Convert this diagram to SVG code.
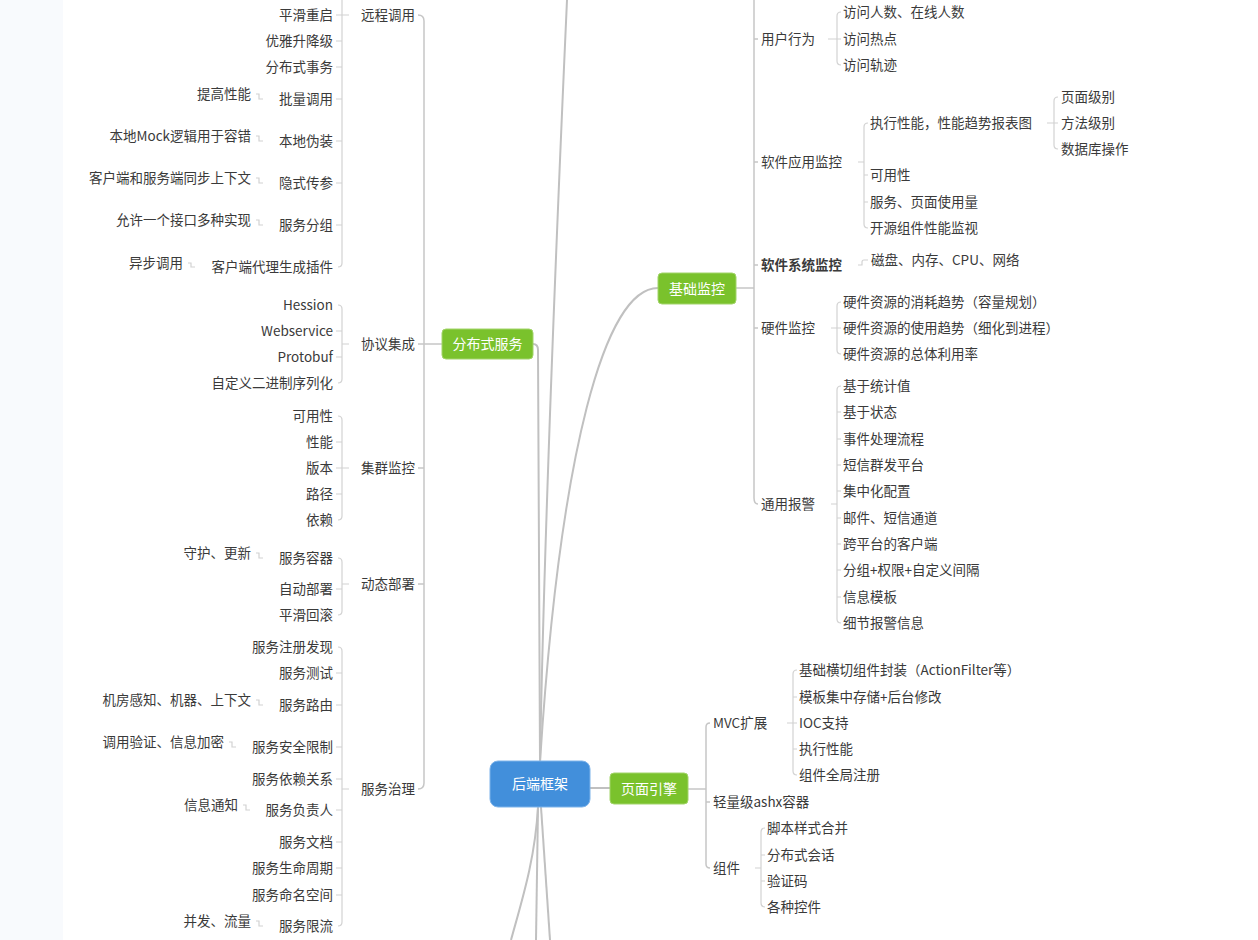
<svg xmlns="http://www.w3.org/2000/svg" width="1258" height="940" viewBox="0 0 1258 940">
<style>
text{font-family:"Noto Sans CJK SC","Liberation Sans",sans-serif;font-size:13.5px;fill:#3a3a3a}
.r{text-anchor:end}
.b{font-weight:bold}
.nt{fill:#fff;font-size:14px;text-anchor:middle}
.main{fill:none;stroke:#c0c0c0;stroke-width:2}
.l2{fill:none;stroke:#c6c6c6;stroke-width:1.5}
.l3{fill:none;stroke:#d2d2d2;stroke-width:1.2}
.g{fill:#7ac22c;stroke:#a2d46a;stroke-width:1}
.bl{fill:#428fdb;stroke:#7db3ea;stroke-width:1}
</style>
<rect x="0" y="0" width="1258" height="940" fill="#ffffff"/>
<rect x="0" y="0" width="63" height="940" fill="#f8fafd"/>

<g id="connectors">
<path class="main" d="M540,762 C543,600 549,400 567,0"/>
<path class="main" d="M533,344 Q538,344 538,350 L540,762"/>
<path class="main" d="M540,762 C560,450 605,288 658,288"/>
<path class="main" d="M590,788 H610"/>
<path class="main" d="M538,807 C535,860 522,900 511,940"/>
<path class="main" d="M538,807 L536,940"/>
<path class="main" d="M541,807 L550,940"/>
<!-- left level 2 -->
<path class="l2" d="M418,15 Q424,15 424,21 V783 Q424,789 418,789"/>
<path class="l2" d="M418,344 H442 M418,468 H424 M418,584 H424"/>
<!-- left level 3 -->
<path class="l3" d="M342,0 V263 Q342,267 338,267 M336,15 H349 M336,41 H342 M336,67 H342 M336,99 H342 M336,141 H342 M336,183 H342 M336,225 H342"/>
<path class="l3" d="M338,305 Q342,305 342,309 V379 Q342,383 338,383 M336,331 H342 M336,357 H342 M342,344 H349"/>
<path class="l3" d="M338,416 Q342,416 342,420 V516 Q342,520 338,520 M336,442 H342 M336,468 H349 M336,494 H342"/>
<path class="l3" d="M338,558 Q342,558 342,562 V611 Q342,615 338,615 M336,589 H342 M342,584 H349"/>
<path class="l3" d="M338,647 Q342,647 342,651 V922 Q342,926 338,926 M336,673 H342 M336,705 H342 M336,747 H342 M336,779 H342 M336,810 H342 M336,842 H342 M336,868 H342 M336,895 H342 M342,789 H349"/>
<!-- left level 4 -->
<path class="l3" d="M256,94 H259 V99 H263 M256,136 H259 V141 H263 M256,178 H259 V183 H263 M256,220 H259 V225 H263 M188,263 H191 V267 H195 M256,553 H259 V558 H263 M256,700 H259 V705 H263 M229,742 H232 V747 H236 M243,805 H246 V810 H250 M256,921 H259 V926 H263"/>
<!-- right level 2 -->
<path class="l2" d="M736,288 H754 M754,0 V498 Q754,504 758,504 M754,39 H758 M754,162 H758 M754,265 H758 M754,328 H758"/>
<!-- right level 3 -->
<path class="l3" d="M841,12 Q837,12 837,16 V61 Q837,65 841,65 M828,39 H841"/>
<path class="l3" d="M868,123 Q864,123 864,127 V224 Q864,228 868,228 M858,162 H864 M864,175 H868 M864,202 H868"/>
<path class="l3" d="M1058,97 Q1054,97 1054,101 V145 Q1054,149 1058,149 M1047,123 H1058"/>
<path class="l3" d="M858,265 H862 V262 Q862,260 864,260 H868"/>
<path class="l3" d="M841,302 Q837,302 837,306 V350 Q837,354 841,354 M831,328 H841"/>
<path class="l3" d="M841,386 Q837,386 837,390 V619 Q837,623 841,623 M831,504 H837 M837,412 H841 M837,439 H841 M837,465 H841 M837,491 H841 M837,518 H841 M837,544 H841 M837,570 H841 M837,597 H841"/>
<path class="l2" d="M688,789 H706 M710,723 Q706,723 706,727 V864 Q706,868 710,868 M706,802 H710"/>
<path class="l3" d="M797,670 Q793,670 793,674 V771 Q793,775 797,775 M787,723 H797 M793,697 H797 M793,749 H797"/>
<path class="l3" d="M765,828 Q761,828 761,832 V903 Q761,907 765,907 M755,868 H761 M761,855 H765 M761,881 H765"/>
</g>

<g id="root"><rect class="bl" x="490" y="761" width="100" height="46" rx="8"/><text class="nt" x="540" y="789">后端框架</text></g>
<g id="n-fbs"><rect class="g" x="442" y="329" width="91" height="30" rx="4"/><text class="nt" x="487.5" y="349">分布式服务</text></g>
<g id="n-jcjk"><rect class="g" x="658" y="273" width="78" height="31" rx="4"/><text class="nt" x="697" y="293.5">基础监控</text></g>
<g id="n-ymyq"><rect class="g" x="610" y="773" width="78" height="31" rx="4"/><text class="nt" x="649" y="793.5">页面引擎</text></g>

<g id="left-l2">
<text class="r" x="415" y="20">远程调用</text>
<text class="r" x="415" y="349">协议集成</text>
<text class="r" x="415" y="473">集群监控</text>
<text class="r" x="415" y="589">动态部署</text>
<text class="r" x="415" y="794">服务治理</text>
</g>
<g id="left-l3">
<text class="r" x="333" y="20">平滑重启</text>
<text class="r" x="333" y="46">优雅升降级</text>
<text class="r" x="333" y="72">分布式事务</text>
<text class="r" x="333" y="104">批量调用</text>
<text class="r" x="333" y="146">本地伪装</text>
<text class="r" x="333" y="188">隐式传参</text>
<text class="r" x="333" y="230">服务分组</text>
<text class="r" x="333" y="272">客户端代理生成插件</text>
<text class="r" x="333" y="310">Hession</text>
<text class="r" x="333" y="336">Webservice</text>
<text class="r" x="333" y="362">Protobuf</text>
<text class="r" x="333" y="388">自定义二进制序列化</text>
<text class="r" x="333" y="421">可用性</text>
<text class="r" x="333" y="447">性能</text>
<text class="r" x="333" y="473">版本</text>
<text class="r" x="333" y="499">路径</text>
<text class="r" x="333" y="525">依赖</text>
<text class="r" x="333" y="563">服务容器</text>
<text class="r" x="333" y="594">自动部署</text>
<text class="r" x="333" y="620">平滑回滚</text>
<text class="r" x="333" y="652">服务注册发现</text>
<text class="r" x="333" y="678">服务测试</text>
<text class="r" x="333" y="710">服务路由</text>
<text class="r" x="333" y="752">服务安全限制</text>
<text class="r" x="333" y="784">服务依赖关系</text>
<text class="r" x="333" y="815">服务负责人</text>
<text class="r" x="333" y="847">服务文档</text>
<text class="r" x="333" y="873">服务生命周期</text>
<text class="r" x="333" y="900">服务命名空间</text>
<text class="r" x="333" y="931">服务限流</text>
</g>
<g id="left-l4">
<text class="r" x="251" y="99">提高性能</text>
<text class="r" x="251" y="141">本地Mock逻辑用于容错</text>
<text class="r" x="251" y="183">客户端和服务端同步上下文</text>
<text class="r" x="251" y="225">允许一个接口多种实现</text>
<text class="r" x="183" y="268">异步调用</text>
<text class="r" x="251" y="558">守护、更新</text>
<text class="r" x="251" y="705">机房感知、机器、上下文</text>
<text class="r" x="224" y="747">调用验证、信息加密</text>
<text class="r" x="238" y="810">信息通知</text>
<text class="r" x="251" y="926">并发、流量</text>
</g>

<g id="right-l2">
<text x="761" y="44">用户行为</text>
<text x="761" y="167">软件应用监控</text>
<text class="b" x="761" y="270">软件系统监控</text>
<text x="761" y="333">硬件监控</text>
<text x="761" y="509">通用报警</text>
</g>
<g id="right-l3">
<text x="843" y="17">访问人数、在线人数</text>
<text x="843" y="44">访问热点</text>
<text x="843" y="70">访问轨迹</text>
<text x="870" y="128">执行性能，性能趋势报表图</text>
<text x="870" y="180">可用性</text>
<text x="870" y="207">服务、页面使用量</text>
<text x="870" y="233">开源组件性能监视</text>
<text x="1061" y="102">页面级别</text>
<text x="1061" y="128">方法级别</text>
<text x="1061" y="154">数据库操作</text>
<text x="871" y="265">磁盘、内存、CPU、网络</text>
<text x="843" y="307">硬件资源的消耗趋势（容量规划）</text>
<text x="843" y="333">硬件资源的使用趋势（细化到进程）</text>
<text x="843" y="359">硬件资源的总体利用率</text>
<text x="843" y="391">基于统计值</text>
<text x="843" y="417">基于状态</text>
<text x="843" y="444">事件处理流程</text>
<text x="843" y="470">短信群发平台</text>
<text x="843" y="496">集中化配置</text>
<text x="843" y="523">邮件、短信通道</text>
<text x="843" y="549">跨平台的客户端</text>
<text x="843" y="575">分组+权限+自定义间隔</text>
<text x="843" y="602">信息模板</text>
<text x="843" y="628">细节报警信息</text>
</g>
<g id="page-engine">
<text x="713" y="728">MVC扩展</text>
<text x="713" y="807">轻量级ashx容器</text>
<text x="713" y="873">组件</text>
<text x="799" y="675">基础横切组件封装（ActionFilter等）</text>
<text x="799" y="702">模板集中存储+后台修改</text>
<text x="799" y="728">IOC支持</text>
<text x="799" y="754">执行性能</text>
<text x="799" y="780">组件全局注册</text>
<text x="767" y="833">脚本样式合并</text>
<text x="767" y="860">分布式会话</text>
<text x="767" y="886">验证码</text>
<text x="767" y="912">各种控件</text>
</g>
</svg>
